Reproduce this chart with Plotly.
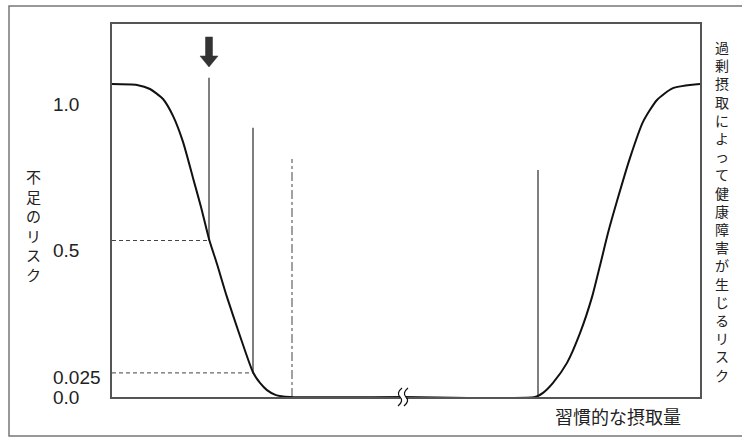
import plotly.graph_objects as go

# ---- data (x in arbitrary intake units, y = risk drawn position) ----
curve_x = [0, 25, 38, 51, 61, 71, 81, 89, 97, 105, 115, 128, 141, 148, 155, 164, 178,
           291, 423, 431, 441, 455, 468, 480, 488, 496, 505, 518, 531, 545, 561, 588]
curve_y = [1.0, 0.997, 0.984, 0.952, 0.898, 0.815, 0.70, 0.607, 0.505, 0.425, 0.319, 0.195, 0.079, 0.045, 0.022, 0.006, 0.0,
           0.0, 0.0, 0.013, 0.045, 0.109, 0.204, 0.319, 0.42, 0.524, 0.626, 0.764, 0.879, 0.949, 0.987, 1.0]

ref_x = [97, 141, 180, 426]
ref_top = [1.02, 0.86, 0.76, 0.725]
ref_bottom = [0.5, 0.077, 0.0, 0.0]
ref_dash = ["solid", "solid", "dashdot", "solid"]

level_y = [0.5, 0.077]
level_x_end = [97, 141]

tick_vals = [1.0, 0.5, 0.077, 0.0]
tick_text = ["1.0", "0.5", "0.025", "0.0"]
tick_shift = [-20, -10, -5, 0]

x_max = 588
break_x = 291
arrow_x = 97

y_title = "不足のリスク"
y2_title = "過剰摂取によって健康障害が生じるリスク"
x_title = "習慣的な摂取量"

JP = "Noto Sans CJK JP"
NUM = "Liberation Sans, Arial"
TXT = "#222222"

fig = go.Figure()

# reference vertical lines
for x, t, b, d in zip(ref_x, ref_top, ref_bottom, ref_dash):
    fig.add_trace(go.Scatter(x=[x, x], y=[b, t], mode="lines",
                             line=dict(color="#555555", width=1.5 if d == "solid" else 1.1, dash=d),
                             hoverinfo="skip", showlegend=False))

# dashed horizontal levels
for y, xe in zip(level_y, level_x_end):
    fig.add_trace(go.Scatter(x=[0, xe], y=[y, y], mode="lines",
                             line=dict(color="#444444", width=1, dash="4px,3px"),
                             hoverinfo="skip", showlegend=False))

# main curve
fig.add_trace(go.Scatter(x=curve_x, y=curve_y, mode="lines",
                         line=dict(color="#111111", width=2, shape="spline", smoothing=0.6),
                         hoverinfo="skip", showlegend=False))

# tick labels
for v, t, s in zip(tick_vals, tick_text, tick_shift):
    fig.add_annotation(x=0, xref="paper", y=v, yref="y", xanchor="left", yanchor="middle",
                       xshift=-61, yshift=s, text=t, showarrow=False,
                       font=dict(family=NUM, size=19, color=TXT))

# vertical Japanese titles (stacked, one character per line)
fig.add_annotation(x=0, xref="paper", y=1, yref="paper", xanchor="center", yanchor="middle",
                   xshift=-79, yshift=-(225.5 - 24), text="<br>".join(y_title), showarrow=False,
                   font=dict(family=JP, size=15, color=TXT))
fig.add_annotation(x=1, xref="paper", y=1, yref="paper", xanchor="center", yanchor="middle",
                   xshift=22, yshift=-(211 - 24), text="<br>".join(y2_title), showarrow=False,
                   font=dict(family=JP, size=14, color=TXT))

fig.add_annotation(x=(618 - 112) / 588, xref="paper", y=0, yref="paper", xanchor="center",
                   yanchor="middle", yshift=-19, text=x_title, showarrow=False,
                   font=dict(family=JP, size=18, color=TXT))

# arrow marker (pixel-sized, anchored to the data point)
fig.add_shape(type="path", xref="x", yref="y", xsizemode="pixel", ysizemode="pixel",
              xanchor=arrow_x, yanchor=1.0,
              path="M 0,17 L -9,28 L -3.5,28 L -3.5,47 L 3.5,47 L 3.5,28 L 9,28 Z",
              fillcolor="#333333", line=dict(color="#333333", width=0.5))

# axis break mark (paper-referenced so it is not clipped)
bx = break_x / x_max
fig.add_shape(type="rect", xref="paper", yref="paper", xsizemode="pixel", ysizemode="pixel",
              xanchor=bx, yanchor=0, x0=-3, x1=3, y0=-3, y1=3,
              fillcolor="white", line=dict(width=0))
for cx in (-3, 3):
    fig.add_shape(type="path", xref="paper", yref="paper", xsizemode="pixel", ysizemode="pixel",
                  xanchor=bx, yanchor=0,
                  path=f"M {cx+2},9 Q {cx-4},4 {cx},0 Q {cx+4},-4 {cx-2},-9",
                  line=dict(color="#111111", width=1.2))

# outer frame (its right side runs off the picture)
fig.add_shape(type="rect", xref="paper", yref="paper",
              x0=(9 - 112) / 588, x1=(760 - 112) / 588, y0=(397 - 436) / 373, y1=(397 - 6) / 373,
              line=dict(color="#777777", width=1.5), fillcolor="rgba(0,0,0,0)", layer="below")

fig.update_xaxes(range=[0, x_max], showgrid=False, zeroline=False, showticklabels=False, ticks="",
                 showline=True, mirror=True, linecolor="#555555", linewidth=1.5)
fig.update_yaxes(range=[0, (397 - 24) / 313], showgrid=False, zeroline=False, showticklabels=False,
                 ticks="", showline=True, mirror=True, linecolor="#555555", linewidth=1.5)

fig.update_layout(width=742, height=438, margin=dict(l=112, r=42, t=24, b=41),
                  paper_bgcolor="white", plot_bgcolor="white")

fig.write_html("out.html", config={"displayModeBar": False},
               post_script="document.body.style.margin='0';document.body.style.overflow='hidden';")
